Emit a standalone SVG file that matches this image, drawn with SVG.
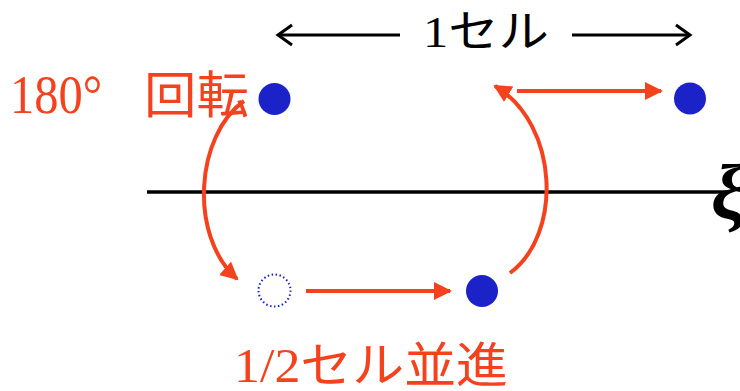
<svg xmlns="http://www.w3.org/2000/svg" width="740" height="391" viewBox="0 0 740 391">
<style>
.lbl{font-family:"Liberation Serif","Noto Sans CJK JP",serif;}
.red{fill:#F4421E;}
.dot{fill:#1B23C8;}
.conn{stroke:#F4421E;stroke-width:4;fill:none;}
.blk{stroke:#000;stroke-width:3;fill:none;}
</style>
<defs>
<marker id="ah" markerUnits="userSpaceOnUse" markerWidth="20" markerHeight="20" refX="16" refY="9" orient="auto">
<path d="M0,0 L18,9 L0,18 Z" fill="#F4421E"/>
</marker>
<marker id="open" markerUnits="userSpaceOnUse" markerWidth="20" markerHeight="24" refX="17" refY="12" orient="auto">
<path d="M3,2 L17,12 L3,22" fill="none" stroke="#000" stroke-width="3"/>
</marker>
</defs>
<rect width="740" height="391" fill="#fff"/>
<g id="axis">
<line x1="147" y1="192" x2="728" y2="192" stroke="#000" stroke-width="3.5"/>
<text x="711" y="218" font-family="Liberation Serif" font-weight="bold" font-style="italic" font-size="78">ξ</text>
</g>
<g id="scale">
<line class="blk" x1="400" y1="35" x2="278" y2="35" marker-end="url(#open)"/>
<line class="blk" x1="572" y1="35" x2="690" y2="35" marker-end="url(#open)"/>
<text class="lbl" x="423" y="47" font-size="44" textLength="126" lengthAdjust="spacingAndGlyphs">1セル</text>
</g>
<g id="label-rotate">
<text class="lbl red" x="10" y="113" font-size="55" textLength="92" lengthAdjust="spacingAndGlyphs">180°</text>
<text class="lbl red" x="144" y="113" font-size="50" textLength="105" lengthAdjust="spacingAndGlyphs">回転</text>
</g>
<g id="label-translate">
<text class="lbl red" x="234" y="382" font-size="48" textLength="274" lengthAdjust="spacingAndGlyphs">1/2セル並進</text>
</g>
<g id="node-a"><circle class="dot" cx="274.5" cy="99" r="16"/></g>
<g id="node-b"><circle cx="274.5" cy="290.5" r="16" fill="none" stroke="#1B23C8" stroke-width="2" stroke-dasharray="1.5 2.5"/></g>
<g id="node-c"><circle class="dot" cx="482" cy="291" r="16"/></g>
<g id="node-d"><circle class="dot" cx="690" cy="98.5" r="16"/></g>
<g id="connectors">
<path class="conn" d="M244,101 C196,135 188,235 237,279" marker-end="url(#ah)"/>
<line class="conn" x1="306" y1="291" x2="450" y2="291" marker-end="url(#ah)"/>
<path class="conn" d="M510,273 C562,235 560,125 495,86" marker-end="url(#ah)"/>
<line class="conn" x1="517" y1="91" x2="661" y2="91" marker-end="url(#ah)"/>
</g>
</svg>
